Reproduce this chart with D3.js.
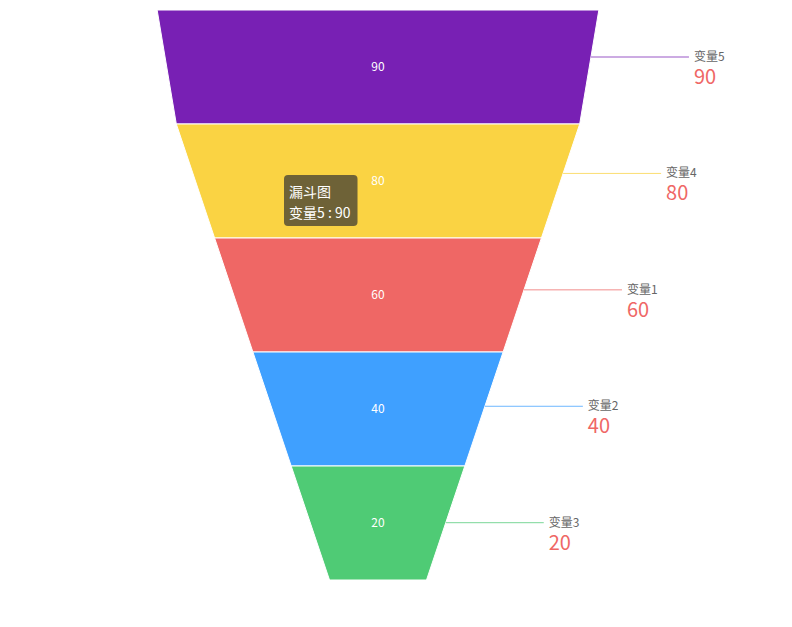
<!DOCTYPE html>
<html><head><meta charset="utf-8">
<script src="https://d3js.org/d3.v7.min.js"></script>
<style>
html,body{margin:0;padding:0;background:#fff;}
svg{display:block;font-family:"Microsoft YaHei","Noto Sans CJK SC",sans-serif;}
</style></head>
<body>
<svg id="chart" width="792" height="627"></svg>
<script>
const names = ["变量5","变量4","变量1","变量2","变量3"];
const values = [90,80,60,40,20];
const colors = ["#7820b4","#fad343","#ef6765","#3fa0ff","#4fcb75"];
const seriesName = "漏斗图";
const tooltipIndex = 0;

(function(){
const svg = d3.select("#chart");
const cx = 378;
const yTop = 10, yBottom = 580;
const n = values.length;
const width = d3.scaleLinear().domain([0,100]).range([97,480]);
const y = d3.scaleLinear().domain([0,n]).range([yTop,yBottom]);
const labelY = d3.scaleLinear().domain([0,n-1]).range([57,522.7]);

const rows = values.map((v,i)=>({name:names[i], value:v, color:colors[i],
  wTop: width(v), wBot: width(i<n-1 ? values[i+1] : 0), y0:y(i), y1:y(i+1)}));

const g = svg.append("g");
g.selectAll("path.piece").data(rows).join("path")
  .attr("class","piece")
  .attr("d", d=>`M${cx-d.wTop/2},${d.y0}L${cx+d.wTop/2},${d.y0}L${cx+d.wBot/2},${d.y1}L${cx-d.wBot/2},${d.y1}Z`)
  .attr("fill", d=>d.color).attr("stroke","#fff").attr("stroke-width",1);

g.selectAll("text.inner").data(rows).join("text")
  .attr("class","inner")
  .attr("x",cx).attr("y",d=>(d.y0+d.y1)/2 - 2)
  .attr("text-anchor","middle").attr("dominant-baseline","central")
  .attr("fill","#fff").attr("font-size",12)
  .text(d=>d.value);

rows.forEach((d,i)=>{
  const ly = labelY(i);
  const t = (ly - d.y0)/(d.y1 - d.y0);
  const ex = cx + (d.wTop/2)*(1-t) + (d.wBot/2)*t;
  const x2 = ex + 98;
  g.append("line").attr("x1",ex).attr("y1",ly).attr("x2",x2).attr("y2",ly)
    .attr("stroke",d.color).attr("stroke-width",1).attr("opacity",0.75);
  g.append("text").attr("x",x2+5).attr("y",ly-1.5).attr("dominant-baseline","central")
    .attr("fill","#666").attr("font-size",12).text(d.name);
  g.append("text").attr("x",x2+5).attr("y",ly+18.5).attr("dominant-baseline","central")
    .attr("fill","#ef6765").attr("font-size",20).text(d.value);
});

const tip = svg.append("g").attr("transform","translate(284,175)");
tip.append("rect").attr("width",73.5).attr("height",51).attr("rx",4)
  .attr("fill","rgba(50,50,50,0.7)");
tip.append("text").attr("x",5).attr("y",16).attr("dominant-baseline","central")
  .attr("fill","#fff").attr("font-size",14).text(seriesName);
tip.append("text").attr("x",5).attr("y",37).attr("dominant-baseline","central")
  .attr("fill","#fff").attr("font-size",14)
  .text(`${names[tooltipIndex]} : ${values[tooltipIndex]}`);
})();
</script>
</body></html>
